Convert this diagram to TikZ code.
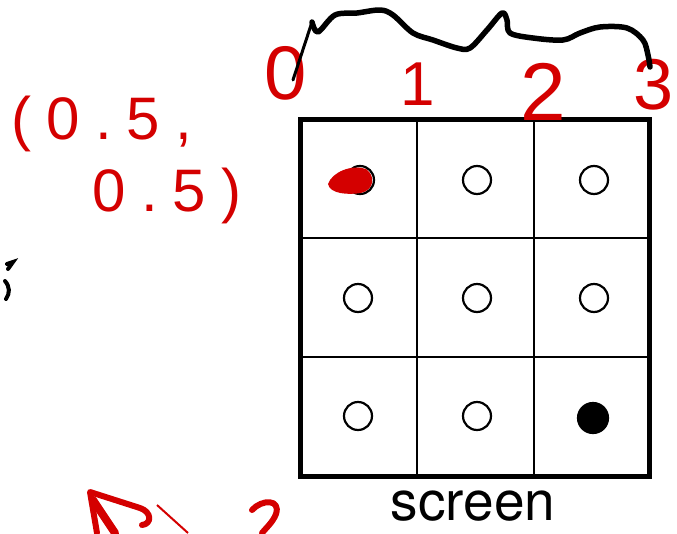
\documentclass[tikz,border=0pt]{standalone}
\usepackage{fontspec}
\setmainfont{Liberation Sans}
\newfontfamily\screenfont{TeX Gyre Heros}
\definecolor{pen}{RGB}{212,0,0}
\begin{document}
\begin{tikzpicture}[x=1pt,y=-1pt,
  gridline/.style={line width=1.6pt, draw=black},
  frame/.style={line width=5pt, draw=black},
  pixel/.style={circle, draw=black, line width=2.2pt, minimum size=28pt, inner sep=0pt},
  lit/.style={pixel, fill=black, minimum size=30pt},
  redtxt/.style={text=pen, inner sep=0pt},
  ink/.style={line width=5.5pt, line cap=round, line join=round},
  redink/.style={draw=pen, line width=6pt, line cap=round, line join=round}
]
\useasboundingbox (0,0) rectangle (677,533);
\fill[white] (0,0) rectangle (677,533);
% grid
\draw[gridline] (417,119) -- (417,476);
\draw[gridline] (534,119) -- (534,476);
\draw[gridline] (300,238) -- (649,238);
\draw[gridline] (300,357) -- (649,357);
\draw[frame] (300,119) rectangle (649,476);
% pixels
\node[pixel] (c11) at (360,180) {};
\node[pixel] (c12) at (477,180) {};
\node[pixel] (c13) at (594,180) {};
\node[pixel] (c21) at (358,298) {};
\node[pixel] (c22) at (477,298) {};
\node[pixel] (c23) at (594,298) {};
\node[pixel] (c31) at (358,416) {};
\node[pixel] (c32) at (477,416) {};
\node[lit] (c33) at (593,418) {};
% label
\node[anchor=base, inner sep=0pt, text depth=0pt, font=\screenfont\fontsize{55}{58}\selectfont] (lbl) at (473,520) {screen};
% red scribble over first pixel
\fill[pen] (328,184) .. controls (332,172) and (352,164) .. (366,169)
  .. controls (376,176) and (374,190) .. (361,193)
  .. controls (348,195) and (330,194) .. (328,184) -- cycle;
% red digits
\node[redtxt, font=\fontsize{76}{76}\selectfont] (d0) at (286,73) {0};
\node[redtxt, font=\fontsize{62}{62}\selectfont] (d1) at (418,84) {1};
\node[redtxt, font=\fontsize{82}{82}\selectfont] (d2) at (543,92) {2};
\node[redtxt, font=\fontsize{72}{72}\selectfont] (d3) at (654,85) {3};
% coordinates
\node[redtxt, font=\fontsize{60}{60}\selectfont\addfontfeature{LetterSpace=25}] (p1) at (102,124) {(0.5,};
\node[redtxt, font=\fontsize{60}{60}\selectfont\addfontfeature{LetterSpace=25}] (p2) at (167,196) {0.5)};
% black squiggle
\draw[line width=3pt, line cap=round] (293,80) -- (312,22);
\draw[ink] plot[smooth, tension=0.55] coordinates {(312,22) (318,32) (335,15) (357,13) (380,10) (393,15) (413,33) (433,40) (457,48) (470,48) (487,30) (502,13) (507,20) (510,33) (533,38) (563,40) (580,33) (600,27) (627,28) (643,40) (648,55) (650,67)};
% black fragments at left edge
\draw[line width=4pt, line cap=round] (7,264) -- (13,262) -- (8,269);
\draw[line width=4pt, line cap=round] (5,281) .. controls (10,287) and (10,293) .. (6,299);
% red fragments at bottom
\draw[redink] (142,525) .. controls (152,524) and (152,512) .. (140,508) -- (90,492) -- (97,533);
\draw[redink, line width=8pt] (93,500) -- (115,533);
\draw[draw=pen, line width=2pt] (157,505) -- (188,533);
\draw[redink] (252,510) .. controls (262,499) and (281,499) .. (276,514) .. controls (273,522) and (266,528) .. (262,533);
\end{tikzpicture}
\end{document}
